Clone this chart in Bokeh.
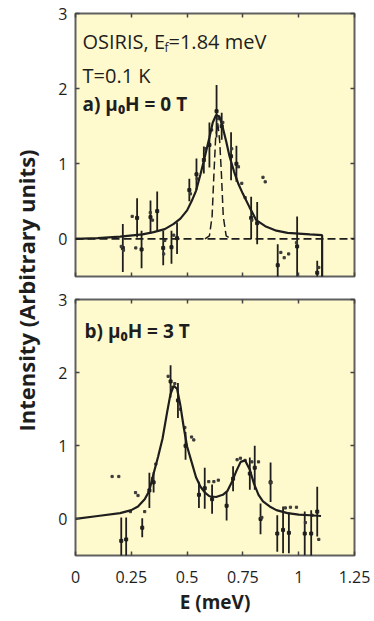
import math
from bokeh.plotting import figure
from bokeh.layouts import row, column
from bokeh.models import (Label, LinearAxis, FixedTicker, ColumnDataSource,
                          Range1d, Span)
from bokeh.embed import file_html
from bokeh.resources import INLINE

# ---------------- data ----------------
x_ticks = [0, 0.25, 0.5, 0.75, 1, 1.25]
x_tick_labels = ["0", "0.25", "0.5", "0.75", "1", "1.25"]
y_ticks = [0, 1, 2, 3]

# panel a) mu0H = 0 T : fitted curve
top_fit_E = [0.0, 0.1, 0.2, 0.3, 0.35, 0.4, 0.44, 0.47, 0.5, 0.52, 0.54, 0.56,
             0.58, 0.60, 0.615, 0.63, 0.645, 0.66, 0.675, 0.69, 0.71, 0.73,
             0.75, 0.78, 0.81, 0.85, 0.90, 0.95, 1.0, 1.05, 1.105, 1.105]
top_fit_I = [0.0, 0.01, 0.03, 0.06, 0.09, 0.13, 0.2, 0.27, 0.38, 0.5, 0.64, 0.86,
             1.1, 1.35, 1.55, 1.65, 1.63, 1.48, 1.3, 1.1, 0.9, 0.73,
             0.6, 0.42, 0.25, 0.17, 0.11, 0.08, 0.07, 0.06, 0.05, -0.6]
# resolution (dashed) peak
top_res_E = [0.58, 0.60, 0.612, 0.62, 0.628, 0.637, 0.646, 0.654, 0.662, 0.675, 0.70]
top_res_I = [0.0, 0.04, 0.3, 0.85, 1.35, 1.55, 1.3, 0.85, 0.3, 0.04, 0.0]
# data with error bars
top_err_E = [0.212, 0.276, 0.296, 0.336, 0.366, 0.393, 0.430, 0.455, 0.510, 0.542,
             0.575, 0.600, 0.632, 0.655, 0.697, 0.721, 0.787, 0.814, 0.906, 0.993,
             1.083]
top_err_I = [-0.12, 0.28, -0.14, 0.29, 0.37, -0.12, -0.11, 0.01, 0.65, 0.86,
             1.05, 1.25, 1.70, 1.50, 1.10, 1.00, 0.28, 0.21, -0.35, -0.10,
             -0.45]
top_err_d = [0.32, 0.26, 0.25, 0.22, 0.26, 0.23, 0.22, 0.21, 0.15, 0.21,
             0.18, 0.30, 0.35, 0.18, 0.32, 0.24, 0.28, 0.28, 0.28, 0.40,
             0.16]
# other data points
top_dot_E = [0.205, 0.215, 0.254, 0.27, 0.335, 0.345, 0.395, 0.40, 0.44, 0.515,
             0.545, 0.58, 0.61, 0.64, 0.66, 0.70, 0.73, 0.745, 0.76, 0.84,
             0.85, 0.79, 0.92, 0.935, 0.955, 0.99, 1.09]
top_dot_I = [-0.1, -0.15, 0.30, -0.12, 0.35, 0.25, -0.2, -0.02, 0.05, 0.6,
             0.8, 1.2, 1.45, 1.6, 1.55, 1.2, 0.96, 0.74, 0.55, 0.82,
             0.76, 0.25, -0.18, -0.25, -0.2, -0.05, -0.38]

# panel b) mu0H = 3 T : fitted curve
bot_fit_E = [0.0, 0.1, 0.2, 0.25, 0.28, 0.31, 0.33, 0.35, 0.37, 0.39, 0.41, 0.425,
             0.44, 0.455, 0.47, 0.485, 0.50, 0.52, 0.54, 0.56, 0.58, 0.60, 0.63,
             0.66, 0.68, 0.70, 0.72, 0.74, 0.76, 0.78, 0.80, 0.82, 0.84, 0.87,
             0.90, 0.95, 1.0, 1.05, 1.1]
bot_fit_I = [0.0, 0.04, 0.08, 0.12, 0.17, 0.27, 0.38, 0.62, 0.85, 1.1, 1.45, 1.7,
             1.82, 1.78, 1.55, 1.25, 0.99, 0.78, 0.57, 0.44, 0.36, 0.31, 0.30,
             0.33, 0.38, 0.5, 0.65, 0.78, 0.8, 0.68, 0.48, 0.33, 0.24, 0.17,
             0.12, 0.08, 0.06, 0.05, 0.04]
bot_err_E = [0.205, 0.227, 0.299, 0.331, 0.350, 0.426, 0.459, 0.493, 0.553, 0.579,
             0.612, 0.677, 0.706, 0.781, 0.803, 0.829, 0.874, 0.904, 0.930, 0.956,
             1.027, 1.056, 1.083]
bot_err_I = [-0.30, -0.28, -0.12, 0.39, 0.50, 1.88, 1.62, 1.00, 0.33, 0.42,
             0.27, 0.18, 0.55, 0.62, 0.70, 0.00, 0.50, -0.20, -0.15, -0.19,
             -0.20, -0.20, 0.10]
bot_err_d = [0.32, 0.30, 0.13, 0.24, 0.14, 0.22, 0.24, 0.19, 0.18, 0.28,
             0.20, 0.20, 0.17, 0.22, 0.30, 0.21, 0.27, 0.25, 0.32, 0.28,
             0.30, 0.32, 0.34]
bot_dot_E = [0.164, 0.194, 0.246, 0.269, 0.28, 0.31, 0.345, 0.36, 0.415, 0.43,
             0.445, 0.47, 0.49, 0.52, 0.53, 0.597, 0.62, 0.64, 0.724, 0.739,
             0.76, 0.79, 0.82, 0.835, 0.874, 0.94, 0.963, 0.99, 1.03, 1.06, 1.09]
bot_dot_I = [0.58, 0.58, 0.10, 0.36, 0.32, 0.10, 0.55, 0.75, 1.95, 1.8,
             1.85, 1.5, 1.25, 1.12, 1.08, 0.51, 0.51, 0.53, 0.81, 0.83,
             0.80, 0.78, 0.78, 0.02, 0.5, 0.15, 0.16, 0.16, -0.05, 0.05, -0.28]

# ---------------- style ----------------
FONT = "Open Sans"
INK = "#1e1e1e"
BG = "#FFFACD"
FRAME = "#606060"
TICK = "#444444"
LAB_W = 41
PANEL_W = 333


def style_axis(ax, ticks, show, size="16px", standoff=8):
    ax.ticker = FixedTicker(ticks=ticks)
    ax.major_tick_in = 4
    ax.major_tick_out = 0
    ax.minor_tick_in = 0
    ax.minor_tick_out = 0
    ax.major_tick_line_color = TICK
    ax.major_tick_line_width = 1.5
    ax.axis_line_color = None
    ax.major_label_text_font = FONT
    if show:
        ax.major_label_text_color = INK
        ax.major_label_text_font_size = size
        ax.major_label_standoff = standoff
    else:
        # tick marks only, no tick labels drawn
        ax.major_label_text_color = None
        ax.major_label_text_font_size = "1px"
        ax.major_label_standoff = 0


def make_panel(height, b_top, b_bottom, show_x):
    p = figure(width=PANEL_W, height=height, x_range=Range1d(0, 1.25),
               y_range=Range1d(-0.5, 3), output_backend="svg",
               toolbar_location=None, min_border_left=34, min_border_right=20,
               min_border_top=b_top, min_border_bottom=b_bottom)
    p.background_fill_color = BG
    p.border_fill_color = "white"
    p.outline_line_color = FRAME
    p.outline_line_width = 2
    p.grid.visible = False
    ya = p.yaxis[0]
    style_axis(ya, y_ticks, True, "16px", 8)
    xa = p.xaxis[0]
    style_axis(xa, x_ticks, show_x, "16px", 15)
    xa.major_label_overrides = {t: s for t, s in zip(x_ticks, x_tick_labels)}
    if show_x:
        xa.axis_label = "E (meV)"
        xa.axis_label_text_font = FONT
        xa.axis_label_text_font_style = "bold"
        xa.axis_label_text_font_size = "19px"
        xa.axis_label_text_color = INK
        xa.axis_label_standoff = 3
    ra = LinearAxis()
    style_axis(ra, y_ticks, False)
    p.add_layout(ra, "right")
    ta = LinearAxis()
    style_axis(ta, x_ticks, False)
    p.add_layout(ta, "above")
    return p


def draw_data(p, fit_E, fit_I, err_E, err_I, err_d, dot_E, dot_I):
    err = ColumnDataSource(dict(
        x=err_E, lo=[i - d for i, d in zip(err_I, err_d)],
        hi=[i + d for i, d in zip(err_I, err_d)], y=err_I))
    p.segment(x0="x", y0="lo", x1="x", y1="hi", source=err,
              line_color=INK, line_width=1.8)
    p.scatter(x="x", y="y", source=err, marker="square", size=3,
              color=INK)
    p.scatter(x=dot_E, y=dot_I, marker="square", size=2.2, color="#3a3a3a")
    p.line(x=fit_E, y=fit_I, line_color=INK, line_width=2.2)


def add_text(p, text, y, x_offset=8, size="20px", style="normal", y_offset=0):
    p.add_layout(Label(x=0, y=y, x_offset=x_offset, y_offset=y_offset,
                       text=text, text_font=FONT, text_font_size=size,
                       text_font_style=style, text_color=INK,
                       text_baseline="middle", text_align="left"))


# ---------------- top panel ----------------
top = make_panel(287, 13, 11, False)
top.add_layout(Span(location=0, dimension="width", line_color=INK,
                    line_width=1.8, line_dash="8 4"))
top.line(x=top_res_E, y=top_res_I, line_color=INK, line_width=1.5,
         line_dash="8 4")
draw_data(top, top_fit_E, top_fit_I, top_err_E, top_err_I, top_err_d,
          top_dot_E, top_dot_I)
add_text(top, "OSIRIS, E", 2.627, 7)
add_text(top, "f", 2.627, 89, "12px", y_offset=-6)
add_text(top, "=1.84 meV", 2.627, 93)
add_text(top, "T=0.1 K", 2.175, 7)
add_text(top, "a) \u03bc\u2080H = 0 T", 1.80, 7, "19px", "bold")

# ---------------- bottom panel ----------------
bot = make_panel(334, 12, 66, True)
draw_data(bot, bot_fit_E, bot_fit_I, bot_err_E, bot_err_I, bot_err_d,
          bot_dot_E, bot_dot_I)
add_text(bot, "b) \u03bc\u2080H = 3 T", 2.569, 9, "19px", "bold")

# ---------------- shared y label ----------------
lab = figure(width=LAB_W, height=621, x_range=Range1d(0, 1), y_range=Range1d(0, 1),
             x_axis_type=None, y_axis_type=None, output_backend="svg",
             toolbar_location=None, min_border=0)
lab.outline_line_color = None
lab.grid.visible = False
lab.add_layout(Label(x=25.5 / LAB_W, y=1 - 290 / 621,
                     text="Intensity (Arbitrary units)", angle=math.pi / 2,
                     text_align="center", text_baseline="middle",
                     text_font=FONT, text_font_style="bold",
                     text_font_size="22px", text_color=INK))

layout = row(lab, column(top, bot))
open("out.html", "w").write(file_html(layout, INLINE))
